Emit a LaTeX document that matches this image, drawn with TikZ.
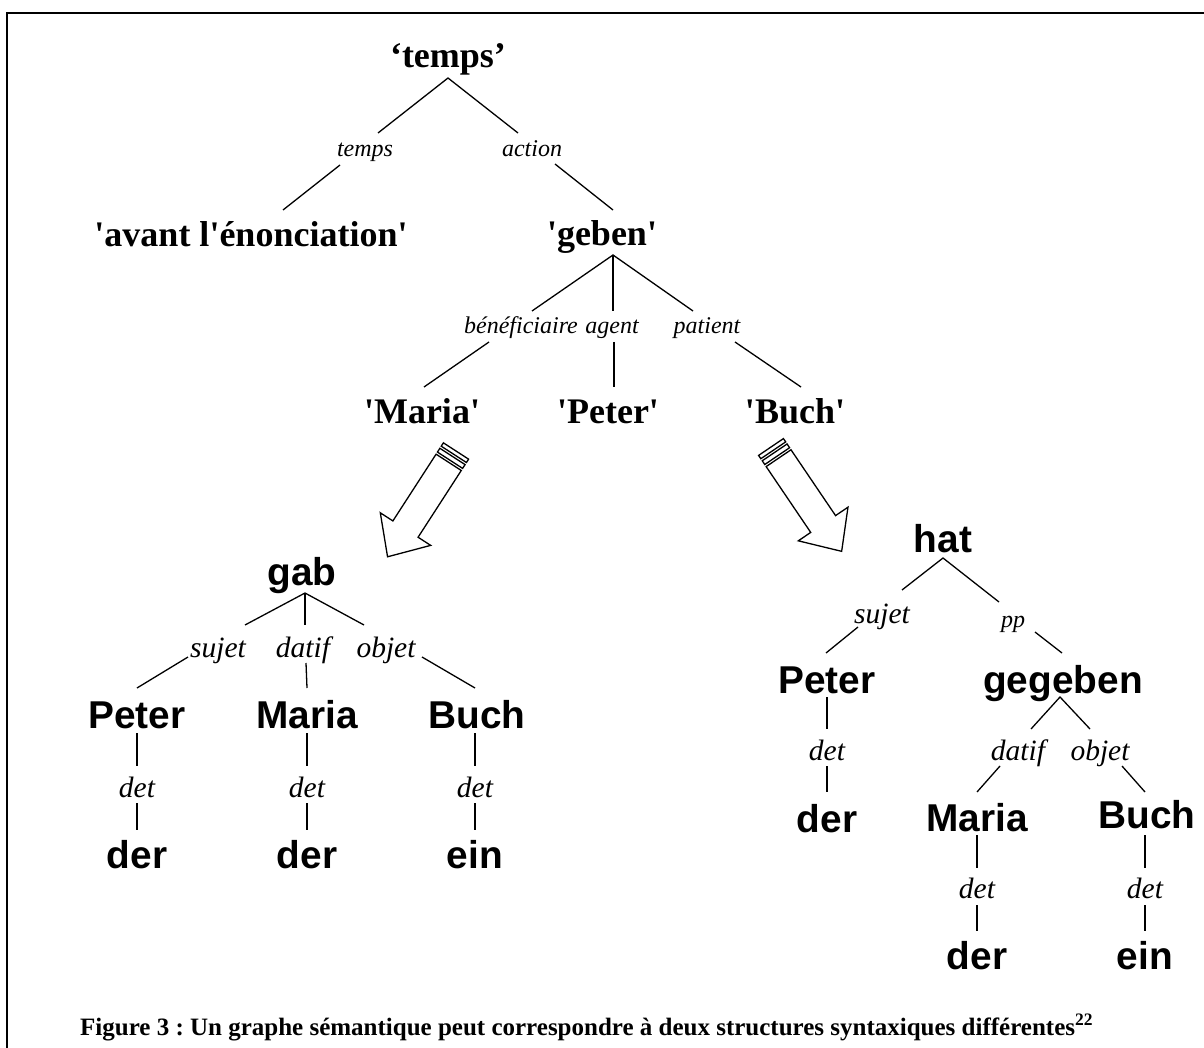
\documentclass[tikz,border=0pt]{standalone}
\usepackage{fontspec}
\setmainfont{Liberation Serif}
\newfontfamily\synfont{Liberation Sans}
\frenchspacing
\begin{document}
\begin{tikzpicture}[x=1pt,y=-1pt,
  sem/.style={inner sep=0pt,anchor=base,font=\fontsize{36pt}{40pt}\selectfont\bfseries},
  syn/.style={inner sep=0pt,anchor=base,font=\fontsize{38.8pt}{42pt}\selectfont\synfont\bfseries},
  rel/.style={inner sep=0pt,anchor=base,font=\fontsize{24pt}{28pt}\selectfont\itshape},
  srel/.style={inner sep=0pt,anchor=base,font=\fontsize{29.5pt}{32pt}\selectfont\itshape},
  link/.style={line width=1.3pt},
  frameline/.style={line width=2.6pt},
  arrowline/.style={line width=1.3pt,line join=miter},
  stripedarrow/.pic={
    \draw[arrowline] (0,-15) rectangle (4,15);
    \draw[arrowline] (6.5,-15) rectangle (11,15);
    \draw[arrowline] (13.5,-15) -- (93,-15) -- (93,-30) -- (126,0)
      -- (93,30) -- (93,15) -- (13.5,15) -- cycle;
  }]
\useasboundingbox (0,0) rectangle (1204,1048);

% frame
\coordinate (frTR) at (1210,13);
\coordinate (frTL) at (7,13);
\coordinate (frBL) at (7,1055);
\draw[frameline] (frTR) -- (frTL) -- (frBL);

% ---------- semantic graph ----------
\node[sem] (temps) at (448,68) {‘temps’};
\node[sem] (avant) at (251,247) {\textquotesingle avant l\textquotesingle énonciation\textquotesingle};
\node[sem] (geben) at (602,246) {\textquotesingle geben\textquotesingle};
\node[sem] (smaria) at (422,423) {\textquotesingle Maria\textquotesingle};
\node[sem] (speter) at (608,423) {\textquotesingle Peter\textquotesingle};
\node[sem] (sbuch) at (795,423) {\textquotesingle Buch\textquotesingle};

\node[rel] (ltemps) at (365,157) {temps};
\node[rel] (laction) at (532,157) {action};
\node[rel] (lbenef) at (521,334) {bénéficiaire};
\node[rel] (lagent) at (612,334) {agent};
\node[rel] (lpatient) at (707,334) {patient};

\coordinate (tA) at (448,78);
\coordinate (tA1) at (378,133); \coordinate (tA2) at (340,165); \coordinate (avT) at (283,210);
\coordinate (tB1) at (518,133); \coordinate (tB2) at (555,164); \coordinate (geT) at (613,210);
\coordinate (gA) at (613,255);
\coordinate (gB1) at (532,311); \coordinate (gB2) at (489,342); \coordinate (maT) at (424,387);
\coordinate (gG1) at (613,311); \coordinate (gG2) at (614,342); \coordinate (peT) at (614,387);
\coordinate (gP1) at (693,311); \coordinate (gP2) at (735,342); \coordinate (buT) at (801,387);

\draw[link] (tA1) -- (tA) -- (tB1);
\draw[link] (tA2) -- (avT);
\draw[link] (tB2) -- (geT);
\draw[link] (gB1) -- (gA) -- (gP1);
\draw[link] (gA) -- (gG1);
\draw[link] (gB2) -- (maT);
\draw[link] (gG2) -- (peT);
\draw[link] (gP2) -- (buT);

% ---------- striped block arrows ----------
\coordinate (arrL) at (456,451);
\coordinate (arrR) at (771,447);
\pic[rotate=-122.9] at (arrL) {stripedarrow};
\pic[rotate=-55.9] at (arrR) {stripedarrow};

% ---------- first syntactic tree ----------
\node[syn] (gab) at (302,585) {gab};
\node[syn] (peter1) at (137,728) {Peter};
\node[syn] (maria1) at (307,728) {Maria};
\node[syn] (buch1) at (477,728) {Buch};
\node[syn] (der1) at (137,868) {der};
\node[syn] (der2) at (307,868) {der};
\node[syn] (ein1) at (475,868) {ein};

\node[srel] (lsujet1) at (218,657) {sujet};
\node[srel] (ldatif1) at (303,657) {datif};
\node[srel] (lobjet1) at (386,657) {objet};
\node[srel] (ldet1) at (137,797) {det};
\node[srel] (ldet2) at (307,797) {det};
\node[srel] (ldet3) at (475,797) {det};

\coordinate (gbA) at (305,593);
\coordinate (gbS1) at (245,625); \coordinate (gbS2) at (188,657); \coordinate (p1T) at (137,688);
\coordinate (gbD1) at (305,625); \coordinate (gbD2) at (306,663); \coordinate (m1T) at (307,688);
\coordinate (gbO1) at (364,625); \coordinate (gbO2) at (422,657); \coordinate (b1T) at (475,688);
\draw[link] (gbS1) -- (gbA) -- (gbO1);
\draw[link] (gbA) -- (gbD1);
\draw[link] (gbS2) -- (p1T);
\draw[link] (gbD2) -- (m1T);
\draw[link] (gbO2) -- (b1T);

\foreach \nm/\xx in {a/137,b/307,c/475}{
  \coordinate (d\nm1) at (\xx,733); \coordinate (d\nm2) at (\xx,766);
  \coordinate (d\nm3) at (\xx,803); \coordinate (d\nm4) at (\xx,830);
  \draw[link] (d\nm1) -- (d\nm2) (d\nm3) -- (d\nm4);
}

% ---------- second syntactic tree ----------
\node[syn] (hat) at (943,552) {hat};
\node[syn] (peter2) at (827,693) {Peter};
\node[syn] (gegeben) at (1063,693) {gegeben};
\node[syn] (der3) at (827,832) {der};
\node[syn] (maria2) at (977,831) {Maria};
\node[syn] (buch2) at (1147,828) {Buch};
\node[syn] (der4) at (977,969) {der};
\node[syn] (ein2) at (1145,969) {ein};

\node[srel] (lsujet2) at (882,623) {sujet};
\node[rel] (lpp) at (1013,627) {pp};
\node[srel] (ldet4) at (827,760) {det};
\node[srel] (ldatif2) at (1018,760) {datif};
\node[srel] (lobjet2) at (1100,760) {objet};
\node[srel] (ldet5) at (977,898) {det};
\node[srel] (ldet6) at (1145,898) {det};

\coordinate (hA) at (943,558);
\coordinate (hS1) at (902,590); \coordinate (hS2) at (858,627); \coordinate (p2T) at (826,653);
\coordinate (hP1) at (999,602); \coordinate (hP2) at (1035,632); \coordinate (ggT) at (1062,653);
\draw[link] (hS1) -- (hA) -- (hP1);
\draw[link] (hS2) -- (p2T);
\draw[link] (hP2) -- (ggT);

\coordinate (ggA) at (1060,697);
\coordinate (ggD1) at (1031,729); \coordinate (ggD2) at (1000,766); \coordinate (m2T) at (977,792);
\coordinate (ggO1) at (1090,729); \coordinate (ggO2) at (1122,766); \coordinate (b2T) at (1145,792);
\draw[link] (ggD1) -- (ggA) -- (ggO1);
\draw[link] (ggD2) -- (m2T);
\draw[link] (ggO2) -- (b2T);

\coordinate (dp1) at (827,697); \coordinate (dp2) at (827,729);
\coordinate (dp3) at (827,766); \coordinate (dp4) at (827,792);
\draw[link] (dp1) -- (dp2) (dp3) -- (dp4);

\foreach \nm/\xx in {m/977,n/1145}{
  \coordinate (e\nm1) at (\xx,835); \coordinate (e\nm2) at (\xx,868);
  \coordinate (e\nm3) at (\xx,905); \coordinate (e\nm4) at (\xx,931);
  \draw[link] (e\nm1) -- (e\nm2) (e\nm3) -- (e\nm4);
}

% ---------- caption ----------
\node[inner sep=0pt,anchor=base west,font=\fontsize{25pt}{28pt}\selectfont\bfseries] (caption) at (80,1035)
  {Figure 3 : Un graphe sémantique peut correspondre à deux structures syntaxiques différentes\textsuperscript{22}};
\end{tikzpicture}
\end{document}
